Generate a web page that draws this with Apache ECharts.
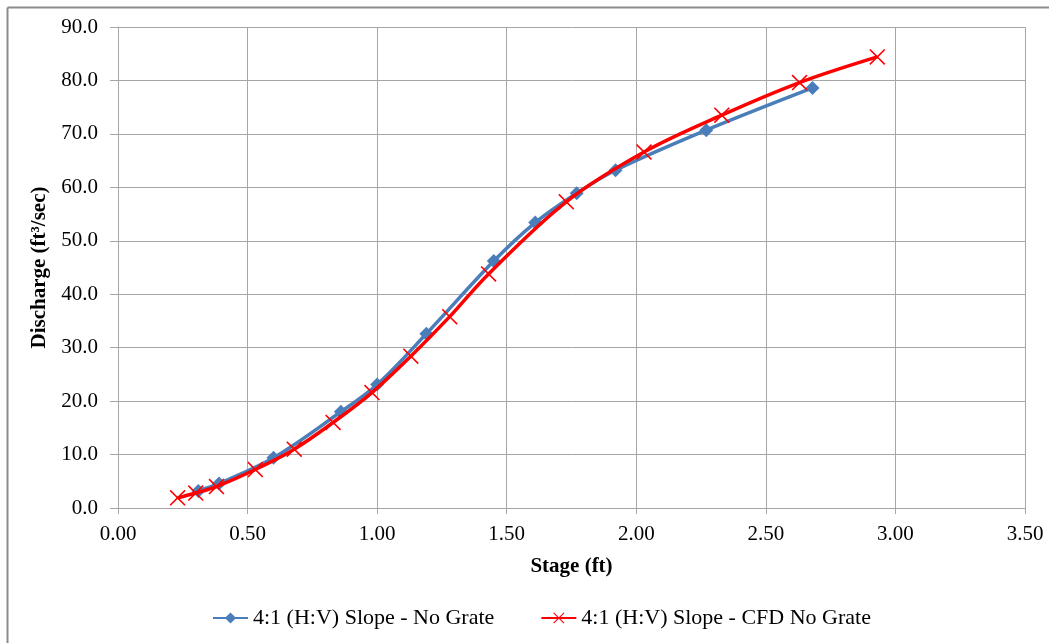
<!DOCTYPE html>
<html>
<head>
<meta charset="utf-8">
<script src="https://cdn.jsdelivr.net/npm/echarts@6/dist/echarts.min.js"></script>
<style>
  html, body { margin: 0; padding: 0; background: #ffffff; }
  #chart { width: 1049px; height: 643px; }
</style>
</head>
<body>
<div id="chart"></div>
<script>
// Stage-discharge measurements, 4:1 (H:V) slope, no grate
const labStage = [0.31, 0.39, 0.60, 0.86, 1.00, 1.19, 1.45, 1.61, 1.77, 1.92, 2.27, 2.68];
const labQ     = [3.2, 4.6, 9.4, 18.0, 23.1, 32.6, 46.2, 53.4, 58.9, 63.2, 70.7, 78.6];

// CFD results for the same slope
const cfdStage = [0.23, 0.30, 0.38, 0.53, 0.68, 0.83, 0.98, 1.13, 1.28, 1.43, 1.73, 2.03, 2.33, 2.63, 2.93];
const cfdQ     = [1.9, 2.8, 4.0, 7.2, 11.0, 16.0, 21.6, 28.4, 35.8, 43.8, 57.3, 66.6, 73.5, 79.6, 84.4];

const seriesNames = ['4:1 (H:V) Slope - No Grate', '4:1 (H:V) Slope - CFD No Grate'];
const xTitle = 'Stage (ft)';
const yTitle = 'Discharge (ft\u00B3/sec)';

const pairs = (xs, ys) => xs.map((x, i) => [x, ys[i]]);

const FONT = 'Liberation Serif';
const GRID = '#a6a6a6';
// thin "x" marker outline
const crossPath = 'path://M0,0.7L0.7,0L5,4.3L9.3,0L10,0.7L5.7,5L10,9.3L9.3,10L5,5.7L0.7,10L0,9.3L4.3,5Z';

const chart = echarts.init(document.getElementById('chart'), null, { renderer: 'canvas' });

chart.setOption({
  backgroundColor: '#ffffff',
  animation: false,
  textStyle: { fontFamily: FONT },
  graphic: [
    { type: 'line', shape: { x1: 7.5, y1: 7.5, x2: 7.5, y2: 643 }, style: { stroke: '#8c8c8c', lineWidth: 2 } },
    { type: 'line', shape: { x1: 7.5, y1: 7.5, x2: 1049, y2: 7.5 }, style: { stroke: '#8c8c8c', lineWidth: 2 } }
  ],
  grid: { left: 118, right: 24, top: 27, bottom: 135, containLabel: false },
  legend: {
    bottom: 9,
    left: 207,
    itemWidth: 35,
    itemHeight: 14,
    itemGap: 46,
    textStyle: { fontFamily: FONT, fontSize: 22, color: '#000' },
    data: seriesNames
  },
  xAxis: {
    type: 'value',
    min: 0, max: 3.5, interval: 0.5,
    name: xTitle,
    nameLocation: 'middle',
    nameGap: 48,
    nameTextStyle: { fontFamily: FONT, fontSize: 21, fontWeight: 'bold', color: '#000' },
    axisLine: { show: true, lineStyle: { color: GRID, width: 1 } },
    axisTick: { show: true, length: 6, lineStyle: { color: GRID } },
    axisLabel: { fontFamily: FONT, fontSize: 21, color: '#000', margin: 16,
                 formatter: v => v.toFixed(2) },
    splitLine: { show: true, lineStyle: { color: GRID, width: 1 } }
  },
  yAxis: {
    type: 'value',
    min: 0, max: 90, interval: 10,
    name: yTitle,
    nameLocation: 'middle',
    nameGap: 60,
    nameTextStyle: { fontFamily: FONT, fontSize: 21, fontWeight: 'bold', color: '#000' },
    axisLine: { show: true, lineStyle: { color: GRID, width: 1 } },
    axisTick: { show: true, length: 8, lineStyle: { color: GRID } },
    axisLabel: { fontFamily: FONT, fontSize: 21, color: '#000', margin: 20,
                 formatter: v => v.toFixed(1) },
    splitLine: { show: true, lineStyle: { color: GRID, width: 1 } }
  },
  series: [
    {
      name: seriesNames[0],
      type: 'line',
      smooth: 0.35,
      data: pairs(labStage, labQ),
      symbol: 'diamond',
      symbolSize: 14,
      showAllSymbol: true,
      lineStyle: { color: '#4a7ebb', width: 3.5 },
      itemStyle: { color: '#4a7ebb' },
      z: 2
    },
    {
      name: seriesNames[1],
      type: 'line',
      smooth: 0.35,
      data: pairs(cfdStage, cfdQ),
      symbol: crossPath,
      symbolSize: 16,
      showAllSymbol: true,
      lineStyle: { color: '#ff0000', width: 3.5 },
      itemStyle: { color: '#ff0000' },
      z: 3
    }
  ]
});
</script>
</body>
</html>
